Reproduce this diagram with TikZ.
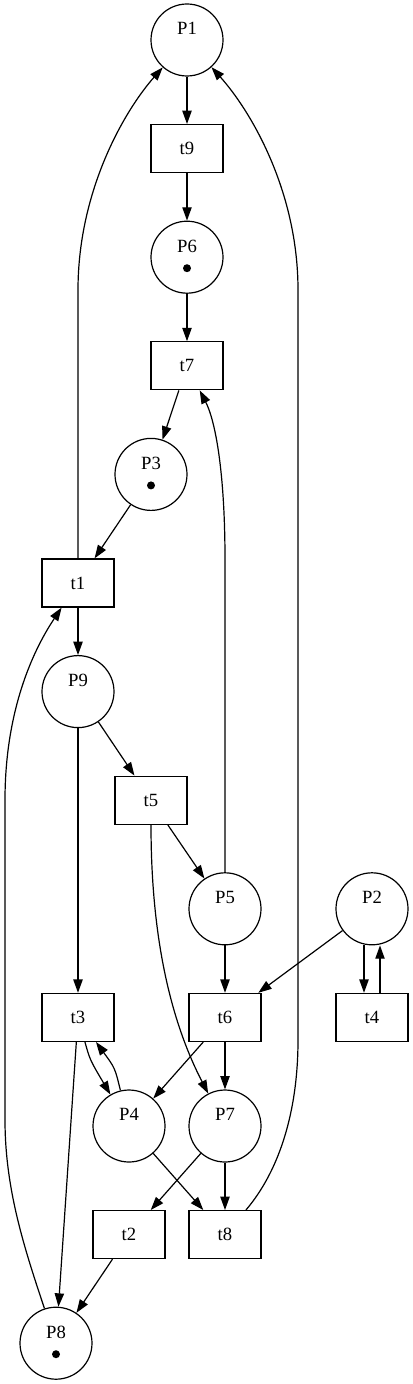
\documentclass[tikz,border=0pt]{standalone}
\usepackage{fontspec}
\setmainfont{Liberation Serif}
\usetikzlibrary{arrows.meta}

\begin{document}
\begin{tikzpicture}[
    x=0.75pt, y=-0.75pt,
    place/.style={circle, draw, line width=0.9pt, minimum size=54pt, inner sep=0pt, align=center, font=\fontsize{14}{16.8}\selectfont},
    trans/.style={rectangle, draw, line width=0.9pt, minimum width=54pt, minimum height=36pt, inner sep=0pt, font=\fontsize{14}{16.8}\selectfont},
    arrow/.style={-{Triangle[length=10pt,width=7pt]}, line width=0.9pt},
    token/.style={fill=black}
]
    \useasboundingbox (0,0) rectangle (413,1384);

    % places and transitions, rank by rank
    \node[place] (P1) at (187,40) {P1\\\phantom{x}};
    \node[trans] (t9) at (187,148.6) {t9};
    \node[place] (P6) at (187,257.2) {P6\\\phantom{x}};
    \node[trans] (t7) at (187,365.8) {t7};
    \node[place] (P3) at (151,474.4) {P3\\\phantom{x}};
    \node[trans] (t1) at (78,583) {t1};
    \node[place] (P9) at (78,691.6) {P9\\\phantom{x}};
    \node[trans] (t5) at (151,800.2) {t5};
    \node[place] (P5) at (225,908.8) {P5\\\phantom{x}};
    \node[place] (P2) at (372,908.8) {P2\\\phantom{x}};
    \node[trans] (t3) at (78,1017.4) {t3};
    \node[trans] (t6) at (225,1017.4) {t6};
    \node[trans] (t4) at (372,1017.4) {t4};
    \node[place] (P4) at (129,1126) {P4\\\phantom{x}};
    \node[place] (P7) at (225,1126) {P7\\\phantom{x}};
    \node[trans] (t2) at (129,1234.6) {t2};
    \node[trans] (t8) at (225,1234.6) {t8};
    \node[place] (P8) at (56,1343.2) {P8\\\phantom{x}};

    % tokens
    \fill[token] (P6.center) ++(0,11) circle (3pt);
    \fill[token] (P3.center) ++(0,11) circle (3pt);
    \fill[token] (P8.center) ++(0,11) circle (3pt);

    % straight arcs
    \draw[arrow] (P1) -- (t9);
    \draw[arrow] (t9) -- (P6);
    \draw[arrow] (P6) -- (t7);
    \draw[arrow] (t7) -- (P3);
    \draw[arrow] (P3) -- (t1);
    \draw[arrow] (t1) -- (P9);
    \draw[arrow] (P9) -- (t5);
    \draw[arrow] (P9) -- (t3);
    \draw[arrow] (t5) -- (P5);
    \draw[arrow] (P5) -- (t6);
    \draw[arrow] (P2) -- (t6);
    \draw[arrow] (t6) -- (P4);
    \draw[arrow] (t6) -- (P7);
    \draw[arrow] (t3) -- (P8);
    \draw[arrow] (P4) -- (t8);
    \draw[arrow] (P7) -- (t2);
    \draw[arrow] (P7) -- (t8);
    \draw[arrow] (t2) -- (P8);

    % pairs of arcs
    \draw[arrow] (t3) .. controls (90,1060) .. (P4);
    \draw[arrow] (P4) .. controls (115,1068) .. (t3);
    \draw[arrow] ([xshift=-6pt]P2.south) -- ([xshift=-6pt]t4.north);
    \draw[arrow] ([xshift=6pt]t4.north) -- ([xshift=6pt]P2.south);

    % long arcs
    \draw[arrow] (t1) -- (78,290) .. controls (78,190) and (125,110) .. (P1);
    \draw[arrow] (t8) .. controls (280,1170) and (298,1110) .. (298,1040) -- (298,290) .. controls (298,190) and (250,110) .. (P1);
    \draw[arrow] (P8) .. controls (25,1250) and (5,1190) .. (5,1120) -- (5,800) .. controls (5,700) and (40,640) .. (t1);
    \draw[arrow] (P5) -- (225,560) .. controls (225,470) and (215,420) .. (t7);
    \draw[arrow] (t5) .. controls (151,920) and (165,1010) .. (P7);
\end{tikzpicture}
\end{document}
